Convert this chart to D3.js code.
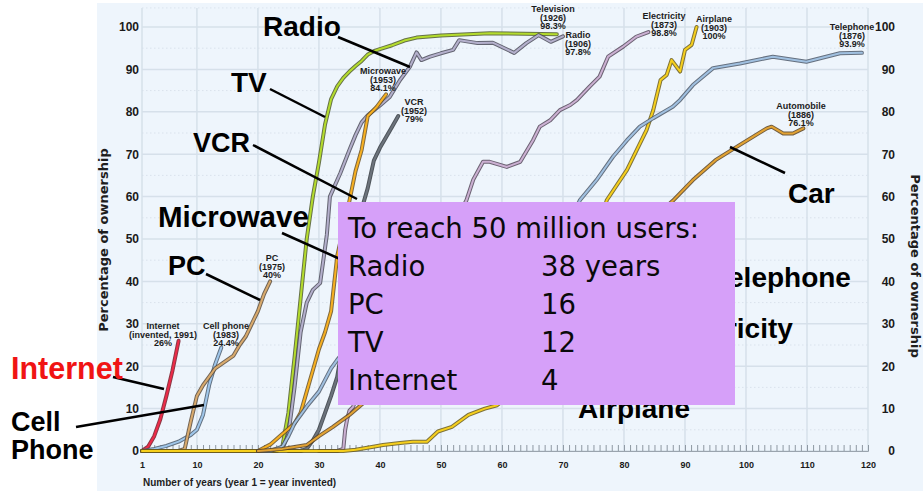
<!DOCTYPE html>
<html>
<head>
<meta charset="utf-8">
<script src="https://cdn.jsdelivr.net/npm/d3@7"></script>
<style>
  body { margin: 0; background: #ffffff; }
  svg { display: block; }
</style>
</head>
<body>
<svg id="chart" width="923" height="491"></svg>
<script>
// ---- Adoption curves: [year since invention, % of households] ----
const internet   = [[1,0],[2,1],[3,3.5],[4,7.5],[5,13],[6,19],[7,26]];
const cellPhone  = [[1,0],[3,0.5],[5,1.2],[7,2.2],[8,3],[9,3.8],[10,5],[11,8.5],[12,15.5],[13,20.5],[14,24.4]];
const pc         = [[1,0],[7,0],[8,0.5],[9,7],[10,13],[11,15.5],[12,17.5],[13,19.5],[14,20.5],[15,21.5],[16,22.5],[17,25],[18,27],[19,30],[20,33],[21,37],[22,40]];
const television = [[20,0],[23,0],[24,1],[25,9],[26,22],[27,36],[28,50],[29,60],[30,68],[31,77],[32,83],[33,86],[34,88],[35,89.5],[36,90.8],[37,92],[38,93.5],[39,94.3],[40,94.8],[42,95.7],[44,96.8],[46,97.5],[50,98],[58,98.5],[69,98.3]];
const radio      = [[20,0],[23,0],[24,0.5],[25,4],[26,15],[27,28],[28,35],[29,38],[30.2,39.6],[31.3,51],[31.8,60],[33.5,65.5],[35,71],[36,74.5],[37,77.5],[38,79.2],[40,81.5],[41.6,83.5],[43.3,87.5],[44.9,90.6],[46,94],[46.8,92.2],[48.2,93],[50,93.8],[52,94.6],[53,96.9],[56,96.2],[58.5,96.3],[62,93.9],[64,96.2],[66,98.1],[68,96.5],[70,97.8]];
const microwave  = [[1,0],[20,0],[22,1.5],[24,4],[26,6.5],[27,9],[28,14],[29,19],[30,24],[31,28],[32,33],[33,46],[34,52.5],[35,59],[36,66],[37,71],[38,79],[39.5,81.2],[41,84.1]];
const vcr        = [[25,0],[27,0],[28,0.5],[29,2.5],[30,5],[31,9],[32,13],[33,17.5],[34,26],[35,38],[36,50],[37,57],[38,62],[39,68.5],[40,71.5],[41,74],[42,76.5],[43,79]];
const electricity= [[30,0],[33,0],[34,0.5],[34.3,5],[34.6,7.3],[35,9.5],[35.6,10.4],[36,12],[38,16],[40,20],[42,25],[44,30],[46,35],[48,41],[50,47],[52,53],[54.2,59.2],[55.3,64],[56.9,68.2],[58,68.2],[60.8,67],[63,68.2],[65.1,73.3],[66.2,76.5],[67.9,78],[69.5,80.4],[71.2,81.6],[72.3,82.8],[74.4,86],[76,88.3],[77.4,93],[79.9,95.4],[82,97.7],[84,98.8]];
const airplane   = [[1,0],[34,0],[36,0.3],[38.9,1],[40.5,1.4],[43.3,1.9],[45.4,2.2],[47.7,2.2],[49.5,4.6],[51.8,5.7],[54.5,8.5],[55.9,9.3],[57.2,10],[59.2,10.8],[62,14],[64,18],[66,23],[68,28],[70,33],[72,40],[74,47],[76,54],[77.2,59.2],[80.5,66.3],[83.7,75.7],[84.8,80.4],[86,87.5],[87,88.7],[87.8,92.2],[89.2,89.5],[90,94.6],[91.1,95.8],[91.9,100]];
const telephone  = [[20,0],[22,0],[24,1],[25,3.5],[26,6.5],[27,8.5],[28,10.5],[30,14],[32,19.5],[33,21.5],[35,25],[40,32],[45,35],[50,38],[55,41],[58,33],[62,36],[65,40],[68,46],[70,51],[72.8,59.2],[75.5,63.9],[78.2,69.4],[80.5,73.3],[82.6,76.5],[84.8,78.5],[88,81.2],[89.2,82.8],[91.3,86.3],[94.6,90.3],[99,91.4],[104.4,93],[109.9,91.8],[115.4,93.8],[119,93.9]];
const automobile = [[20,0],[24,0.5],[28,1.4],[30,3.5],[32.3,5.7],[35,8.5],[37.3,11.3],[40,14],[45,19],[50,25],[55,30],[60,33],[65,38],[70,42],[75,47],[80,51],[85,55],[88,59],[91.3,63.9],[95,68.6],[99,72.2],[103.4,76.1],[104.2,76.5],[106.1,74.9],[107.7,74.9],[109.4,76.1]];

// Series names and invention years used in the end-of-line notes
const seriesNames = ["Internet","Cell phone","PC","Television","Radio","Microwave","VCR","Electricity","Airplane","Telephone","Automobile"];
const inventedYears = ["invented, 1991","1983","1975","1926","1906","1953","1952","1873","1903","1876","1886"];

// Axis ticks
const xTickLabels = [1,10,20,30,40,50,60,70,80,90,100,110,120];
const yTickLabels = [0,10,20,30,40,50,60,70,80,90,100];

// Inset table: time to reach 50 million users
const reachTitle = "To reach 50 million users:";
const reachTech  = ["Radio","PC","TV","Internet"];
const reachYears = ["38 years","16","12","4"];

// ---------------------------------------------------------------
const svg = d3.select("#chart");
const x = d3.scaleLinear().domain([1, 120]).range([142, 868]);
const y = d3.scaleLinear().domain([0, 100]).range([451, 27]);

const seriesData = [internet, cellPhone, pc, television, radio, microwave, vcr, electricity, airplane, telephone, automobile];
const seriesStyle = [
  {color:"#ee2a48", casing:"#7a1624"},
  {color:"#9fc6ea", casing:"#4a5a6c"},
  {color:"#d9aa6c", casing:"#5a4a38"},
  {color:"#b4dc2c", casing:"#4e5a28"},
  {color:"#b4b0cc", casing:"#4a4a58"},
  {color:"#f8b020", casing:"#6a5020"},
  {color:"#6c737c", casing:"#33383e"},
  {color:"#cbb0d2", casing:"#55485a"},
  {color:"#f6cf1c", casing:"#6a5a18"},
  {color:"#a0c0e0", casing:"#4c5868"},
  {color:"#e2a232", casing:"#5a4220"}
];

// Background panel
svg.append("rect")
  .attr("x", 97).attr("y", 3).attr("width", 826).attr("height", 488)
  .attr("fill", "#eef5fc");

// Grid
const grid = svg.append("g");
grid.selectAll("line.minor")
  .data(d3.range(5, 100, 10))
  .join("line")
  .attr("x1", x(1)).attr("x2", x(120))
  .attr("y1", d => y(d)).attr("y2", d => y(d))
  .attr("stroke", "#d9e2ec").attr("stroke-width", 1).attr("stroke-dasharray", "1.5,2.5");
grid.selectAll("line.h")
  .data(yTickLabels)
  .join("line")
  .attr("x1", x(1)).attr("x2", x(120))
  .attr("y1", d => y(d)).attr("y2", d => y(d))
  .attr("stroke", "#d6e0ea").attr("stroke-width", 1.5);
grid.selectAll("line.v")
  .data(xTickLabels)
  .join("line")
  .attr("x1", d => x(d)).attr("x2", d => x(d))
  .attr("y1", y(0)).attr("y2", y(104.5))
  .attr("stroke", "#d6e0ea").attr("stroke-width", 1.5);
grid.append("line")
  .attr("x1", x(1)).attr("x2", x(120)).attr("y1", y(104.5)).attr("y2", y(104.5))
  .attr("stroke", "#dbe4ee").attr("stroke-dasharray", "1.5,2.5");

// Yearly tick marks along the baseline
svg.append("g")
  .attr("transform", `translate(0,${y(0)})`)
  .call(d3.axisBottom(x).tickValues(d3.range(1, 121)).tickSize(-6).tickFormat(""))
  .call(g => g.select(".domain").attr("stroke", "#9aa4ae"))
  .call(g => g.selectAll(".tick line").attr("stroke", "#8e98a2"));

// X labels
svg.append("g")
  .attr("transform", `translate(0,${y(0) + 9})`)
  .call(d3.axisBottom(x).tickValues(xTickLabels).tickSize(0).tickPadding(2))
  .call(g => g.select(".domain").remove())
  .call(g => g.selectAll("text")
    .attr("font-family", "'Liberation Sans', Arial, sans-serif")
    .attr("font-weight", "bold").attr("font-size", 9).attr("fill", "#1a1a1a"));

// Left and right Y labels
function yLabels(xpos) {
  svg.append("g")
    .attr("transform", `translate(${xpos},0)`)
    .call(d3.axisLeft(y).tickValues(yTickLabels).tickSize(0).tickPadding(0))
    .call(g => g.select(".domain").remove())
    .call(g => g.selectAll("text")
      .attr("font-family", "'Liberation Sans', Arial, sans-serif")
      .attr("font-weight", "bold").attr("font-size", 12).attr("fill", "#1a1a1a"));
}
yLabels(139);
yLabels(895);

// Axis titles
const titleFont = "'DejaVu Sans', Verdana, sans-serif";
svg.append("text")
  .attr("transform", `translate(108,240) rotate(-90)`)
  .attr("text-anchor", "middle")
  .attr("font-family", titleFont).attr("font-weight", "bold").attr("font-size", 13)
  .attr("fill", "#1e1e1e").text("Percentage of ownership");
svg.append("text")
  .attr("transform", `translate(911,266) rotate(90)`)
  .attr("text-anchor", "middle")
  .attr("font-family", titleFont).attr("font-weight", "bold").attr("font-size", 13)
  .attr("fill", "#1e1e1e").text("Percentage of ownership");
svg.append("text")
  .attr("x", 143).attr("y", 486)
  .attr("font-family", "'Liberation Sans', Arial, sans-serif").attr("font-weight", "bold").attr("font-size", 10)
  .attr("fill", "#1e1e1e").text("Number of years (year 1 = year invented)");

// Adoption lines: dark casing with coloured core
const line = d3.line().x(d => x(d[0])).y(d => y(d[1]));
const lines = svg.append("g").attr("fill", "none").attr("stroke-linejoin", "round").attr("stroke-linecap", "round");
seriesData.forEach((data, i) => {
  lines.append("path").attr("d", line(data))
    .attr("stroke", seriesStyle[i].casing).attr("stroke-width", 4).attr("stroke-opacity", 0.85);
  lines.append("path").attr("d", line(data))
    .attr("stroke", seriesStyle[i].color).attr("stroke-width", 2);
});

// End-of-line notes (name, year invented, final share)
const noteAnchors = [
  [163, 329], [226, 329], [272, 261], [553, 12], [578, 38],
  [383, 74], [414, 105], [664, 19], [714, 22], [852, 30], [801, 109]
];
const notes = svg.append("g")
  .attr("font-family", "'Liberation Sans', Arial, sans-serif")
  .attr("font-weight", "bold").attr("font-size", 9)
  .attr("fill", "#1c1c1c").attr("text-anchor", "middle");
seriesData.forEach((data, i) => {
  const last = data[data.length - 1][1];
  const rows = [seriesNames[i], `(${inventedYears[i]})`, `${last}%`];
  const [ax, ay] = noteAnchors[i];
  rows.forEach((r, k) => {
    notes.append("text").attr("x", ax).attr("y", ay + k * 8.6).text(r);
  });
});

// Call-out labels with pointer lines
const callouts = [
  {t:["Radio"],        x:263, y:36,  s:28,   c:"#000", l:[338,37,410,67]},
  {t:["TV"],           x:231, y:92,  s:28,   c:"#000", l:[270,89,325,117]},
  {t:["VCR"],          x:193, y:152, s:27,   c:"#000", l:[253,145,357,199]},
  {t:["Microwave"],    x:158, y:227, s:29.5, c:"#000", l:[282,233,340,259]},
  {t:["PC"],           x:168, y:275, s:27,   c:"#000", l:[206,274,260,300]},
  {t:["Internet"],     x:11,  y:379, s:30.5, c:"#f01414", l:[113,377,164,389]},
  {t:["Cell","Phone"], x:11,  y:431, s:27,   c:"#000", l:[76,427,204,405]},
  {t:["Car"],          x:788, y:203, s:28,   c:"#000", l:[730,147,785,173]},
  {t:["Telephone"],    x:713, y:287, s:28,   c:"#000", l:null},
  {t:["Electricity"],  x:659, y:338, s:28,   c:"#000", l:null},
  {t:["Airplane"],     x:578, y:418, s:28,   c:"#000", l:null}
];
const co = svg.append("g");
callouts.forEach(d => {
  if (d.l) co.append("line")
    .attr("x1", d.l[0]).attr("y1", d.l[1]).attr("x2", d.l[2]).attr("y2", d.l[3])
    .attr("stroke", "#000").attr("stroke-width", 2.5);
  const txt = co.append("text").attr("x", d.x).attr("y", d.y)
    .attr("font-family", "'Liberation Sans', Arial, sans-serif")
    .attr("font-weight", "bold").attr("font-size", d.s).attr("fill", d.c);
  d.t.forEach((row, k) => {
    txt.append("tspan").attr("x", d.x).attr("dy", k === 0 ? 0 : 28).text(row);
  });
});

// Inset table
const box = svg.append("g");
box.append("rect").attr("x", 338).attr("y", 202).attr("width", 397).attr("height", 203)
  .attr("fill", "#d6a0f9");
const boxFont = "'DejaVu Sans', Verdana, sans-serif";
box.append("text").attr("x", 348).attr("y", 238)
  .attr("font-family", boxFont).attr("font-size", 27.5).attr("fill", "#0a0a0a").text(reachTitle);
reachTech.forEach((t, i) => {
  box.append("text").attr("x", 348).attr("y", 276 + i * 38)
    .attr("font-family", boxFont).attr("font-size", 27.5).attr("fill", "#0a0a0a").text(t);
  box.append("text").attr("x", 541).attr("y", 276 + i * 38)
    .attr("font-family", boxFont).attr("font-size", 27.5).attr("fill", "#0a0a0a").text(reachYears[i]);
});
</script>
</body>
</html>
